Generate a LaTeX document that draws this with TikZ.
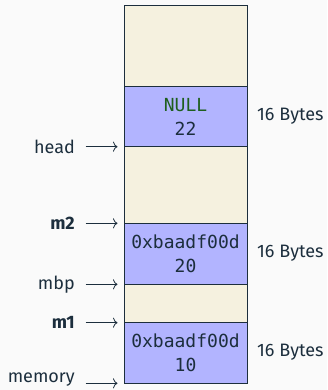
\documentclass[tikz,border=0pt]{standalone}
\usepackage{fontspec}
\usetikzlibrary{arrows.meta}
\setmainfont{Fira Sans}
\setmonofont{DejaVu Sans Mono}
\definecolor{bg}{HTML}{FAFAFA}
\definecolor{ink}{HTML}{1C2E3D}
\definecolor{free}{HTML}{F5F1DF}
\definecolor{used}{HTML}{B2B4FF}
\definecolor{nullc}{HTML}{1E5E1E}
\begin{document}
\begin{tikzpicture}[x=1pt,y=-1pt,
  cell/.style={draw=ink,line width=1pt},
  freecell/.style={cell,fill=free},
  usedcell/.style={cell,fill=used},
  lbl/.style={text=ink,font=\fontsize{18}{22}\selectfont,inner sep=0pt},
  mono/.style={text=ink,font=\ttfamily\fontsize{18}{24}\selectfont,align=center,inner sep=0pt},
  ptr/.style={draw=ink,line width=0.8pt,-{To[length=4.5pt,width=10pt]}}]
\fill[bg] (0,0) rectangle (327,390);
\useasboundingbox (0,0) rectangle (327,390);
% cells
\path[freecell] (124,5.5) rectangle (247,86.7);
\path[usedcell] (124,86.7) rectangle (247,146.7);
\path[freecell] (124,146.7) rectangle (247,223.3);
\path[usedcell] (124,223.3) rectangle (247,284.3);
\path[freecell] (124,284.3) rectangle (247,322.7);
\path[usedcell] (124,322.7) rectangle (247,383.3);
% contents
\node[mono] (c22) at (185.5,116.7) {\textcolor{nullc}{NULL}\\22};
\node[mono] (c20) at (185.5,253.8) {0xbaadf00d\\20};
\node[mono] (c10) at (185.5,353) {0xbaadf00d\\10};
% sizes
\node[lbl,anchor=west] (s22) at (257,116) {16 Bytes};
\node[lbl,anchor=west] (s20) at (257,253) {16 Bytes};
\node[lbl,anchor=west] (s10) at (257,352.5) {16 Bytes};
% pointers
\coordinate (phead) at (117.5,146.7);
\coordinate (pm2) at (117.5,223.3);
\coordinate (pmbp) at (117.5,284.3);
\coordinate (pm1) at (117.5,322.7);
\coordinate (pmem) at (117.5,383.3);
\node[lbl,anchor=east] (head) at (75,146.7) {head};
\node[lbl,anchor=east] (m2) at (75,223.3) {\textbf{m2}};
\node[lbl,anchor=east] (mbp) at (75,284.3) {mbp};
\node[lbl,anchor=east] (m1) at (75,322.7) {\textbf{m1}};
\node[lbl,anchor=east] (mem) at (75,380) {memory};
\draw[ptr] (85.5,146.7) -- (phead);
\draw[ptr] (85.5,223.3) -- (pm2);
\draw[ptr] (85.5,284.3) -- (pmbp);
\draw[ptr] (85.5,322.7) -- (pm1);
\draw[ptr] (85.5,383.3) -- (pmem);
\end{tikzpicture}
\end{document}
